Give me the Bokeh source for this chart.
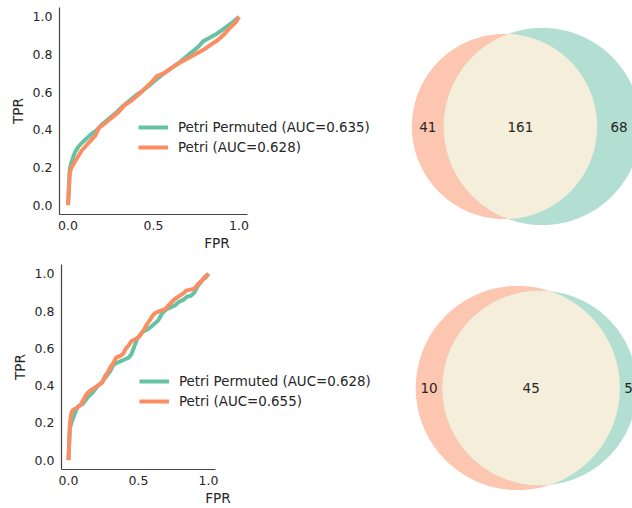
import numpy as np
from bokeh.plotting import figure
from bokeh.layouts import column, row
from bokeh.models import (Legend, LegendItem, FixedTicker, PrintfTickFormatter,
                          Range1d, ColumnDataSource)
from bokeh.core.properties import value
from bokeh.embed import file_html
from bokeh.resources import INLINE

# ---------------- data ----------------
# Top ROC panel
top_perm_fpr = [0, 0.005, 0.01, 0.02, 0.04, 0.06, 0.08, 0.11, 0.14, 0.17, 0.20, 0.24, 0.28, 0.32, 0.36,
                0.40, 0.44, 0.48, 0.52, 0.56, 0.60, 0.64, 0.68, 0.72, 0.76, 0.79, 0.82, 0.86, 0.90,
                0.93, 0.96, 0.98, 1.0]
top_perm_tpr = [0, 0.10, 0.19, 0.23, 0.28, 0.31, 0.33, 0.355, 0.38, 0.40, 0.43, 0.46, 0.49, 0.525, 0.555,
                0.585, 0.61, 0.64, 0.67, 0.70, 0.725, 0.75, 0.78, 0.81, 0.84, 0.87, 0.885, 0.905, 0.93,
                0.95, 0.97, 0.985, 1.0]
top_petri_fpr = [0, 0.005, 0.01, 0.02, 0.04, 0.06, 0.08, 0.10, 0.13, 0.16, 0.18, 0.21, 0.25, 0.29, 0.33,
                 0.37, 0.41, 0.45, 0.49, 0.52, 0.56, 0.60, 0.64, 0.68, 0.72, 0.76, 0.80, 0.84, 0.88,
                 0.91, 0.94, 0.96, 0.98, 0.99, 1.0]
top_petri_tpr = [0, 0.08, 0.17, 0.20, 0.23, 0.26, 0.29, 0.31, 0.34, 0.37, 0.41, 0.43, 0.46, 0.49, 0.53,
                 0.555, 0.585, 0.62, 0.655, 0.685, 0.70, 0.725, 0.75, 0.77, 0.79, 0.81, 0.83, 0.855, 0.88,
                 0.905, 0.935, 0.955, 0.97, 0.985, 1.0]
top_labels = ["Petri Permuted (AUC=0.635)", "Petri (AUC=0.628)"]

# Bottom ROC panel
bot_perm_fpr = [0, 0.005, 0.01, 0.02, 0.035, 0.05, 0.07, 0.10, 0.12, 0.14, 0.17, 0.19, 0.21, 0.24, 0.26,
                0.28, 0.30, 0.32, 0.34, 0.37, 0.40, 0.43, 0.45, 0.47, 0.49, 0.51, 0.53, 0.56, 0.58,
                0.61, 0.64, 0.67, 0.70, 0.73, 0.76, 0.79, 0.82, 0.85, 0.87, 0.90, 0.92, 0.94, 0.96,
                0.98, 1.0]
bot_perm_tpr = [0, 0.09, 0.17, 0.20, 0.23, 0.26, 0.29, 0.30, 0.32, 0.34, 0.36, 0.38, 0.40, 0.42, 0.44,
                0.46, 0.48, 0.51, 0.52, 0.53, 0.54, 0.55, 0.57, 0.61, 0.65, 0.67, 0.69, 0.70, 0.71,
                0.73, 0.75, 0.79, 0.81, 0.82, 0.83, 0.85, 0.86, 0.88, 0.88, 0.90, 0.93, 0.95, 0.97,
                0.98, 1.0]
bot_petri_fpr = [0, 0.005, 0.01, 0.02, 0.033, 0.06, 0.09, 0.11, 0.13, 0.15, 0.18, 0.21, 0.24, 0.26, 0.28,
                 0.30, 0.32, 0.34, 0.37, 0.39, 0.41, 0.43, 0.45, 0.47, 0.50, 0.52, 0.54, 0.56, 0.58,
                 0.60, 0.62, 0.65, 0.69, 0.72, 0.74, 0.76, 0.79, 0.82, 0.84, 0.87, 0.90, 0.92, 0.94,
                 0.95, 0.97, 1.0]
bot_petri_tpr = [0, 0.10, 0.20, 0.25, 0.272, 0.28, 0.30, 0.33, 0.355, 0.37, 0.385, 0.40, 0.415, 0.45, 0.47,
                 0.50, 0.52, 0.55, 0.56, 0.57, 0.60, 0.615, 0.64, 0.645, 0.66, 0.68, 0.70, 0.73, 0.75,
                 0.775, 0.79, 0.80, 0.81, 0.835, 0.85, 0.865, 0.88, 0.895, 0.91, 0.915, 0.92, 0.94, 0.955,
                 0.96, 0.98, 1.0]
bot_labels = ["Petri Permuted (AUC=0.628)", "Petri (AUC=0.655)"]

# Venn counts: (only left, both, only right)
top_venn = [41, 161, 68]
bot_venn = [10, 45, 5]

x_ticks = [0.0, 0.5, 1.0]
y_ticks = [0.0, 0.2, 0.4, 0.6, 0.8, 1.0]

# ---------------- style ----------------
GREEN = "#66c2a5"
ORANGE = "#fc8d62"
TEXT = "#262626"
FONT = "DejaVu Sans"
SALMON = "#fdc6b0"
TEAL = "#b2dfd1"
CREAM = "#f5eedb"

ROC_W = 400
VENN_W = 232


def roc_fig(fpr1, tpr1, fpr2, tpr2, labels, px_per_unit, frame_h, left, top, bottom, legend_xy):
    right = 26
    fw = ROC_W - left - right
    xend = -0.05 + fw / px_per_unit
    p = figure(frame_width=fw, frame_height=frame_h, title=None,
               x_range=Range1d(-0.05, xend), y_range=Range1d(-0.05, 1.05),
               output_backend="svg", toolbar_location=None,
               min_border_left=left, min_border_right=right,
               min_border_top=top, min_border_bottom=bottom)
    p.outline_line_color = None
    p.grid.visible = False
    p.background_fill_color = "white"
    r1 = p.line(fpr1, tpr1, line_color=GREEN, line_width=4)
    r2 = p.line(fpr2, tpr2, line_color=ORANGE, line_width=4)
    p.xaxis.bounds = (-0.05, 1.05)
    p.xaxis.ticker = FixedTicker(ticks=x_ticks)
    p.yaxis.ticker = FixedTicker(ticks=y_ticks)
    p.xaxis.formatter = PrintfTickFormatter(format="%.1f")
    p.yaxis.formatter = PrintfTickFormatter(format="%.1f")
    p.xaxis.axis_label = "FPR"
    p.yaxis.axis_label = "TPR"
    for ax in (p.xaxis, p.yaxis):
        ax.axis_line_color = "#444444"
        ax.axis_line_width = 1.2
        ax.major_tick_line_color = None
        ax.minor_tick_line_color = None
        ax.major_tick_out = 0
        ax.major_tick_in = 0
        ax.minor_tick_out = 0
        ax.major_label_text_font = FONT
        ax.major_label_text_font_size = "12.5px"
        ax.major_label_text_color = TEXT
        ax.axis_label_text_font = FONT
        ax.axis_label_text_font_size = "13.7px"
        ax.axis_label_text_font_style = "normal"
        ax.axis_label_text_color = TEXT
    p.xaxis.major_label_standoff = 6
    p.yaxis.major_label_standoff = 7
    p.xaxis.axis_label_standoff = 2
    p.yaxis.axis_label_standoff = 4
    leg = Legend(items=[LegendItem(label=labels[0], renderers=[r1]),
                        LegendItem(label=labels[1], renderers=[r2])],
                 location=legend_xy)
    leg.label_text_font = FONT
    leg.label_text_font_size = "13.4px"
    leg.label_text_color = TEXT
    leg.glyph_width = 30
    leg.glyph_height = 20
    leg.label_height = 20
    leg.label_standoff = 10
    leg.spacing = 0
    leg.padding = 0
    leg.margin = 0
    leg.border_line_color = None
    leg.background_fill_alpha = 0
    p.add_layout(leg, "center")
    return p


def lens_area(r1, r2, d):
    if d >= r1 + r2:
        return 0.0
    if d <= abs(r1 - r2):
        return np.pi * min(r1, r2) ** 2
    a1 = r1 ** 2 * np.arccos((d ** 2 + r1 ** 2 - r2 ** 2) / (2 * d * r1))
    a2 = r2 ** 2 * np.arccos((d ** 2 + r2 ** 2 - r1 ** 2) / (2 * d * r2))
    a3 = 0.5 * np.sqrt((-d + r1 + r2) * (d + r1 - r2) * (d - r1 + r2) * (d + r1 + r2))
    return a1 + a2 - a3


def venn_fig(counts, scale, width, height, cx_px, cy_px):
    a_only, both, b_only = counts
    r1 = np.sqrt((a_only + both) / np.pi)
    r2 = np.sqrt((b_only + both) / np.pi)
    lo, hi = abs(r1 - r2) + 1e-9, r1 + r2
    for _ in range(200):
        mid = 0.5 * (lo + hi)
        if lens_area(r1, r2, mid) > both:
            lo = mid
        else:
            hi = mid
    d = 0.5 * (lo + hi)
    x0 = -cx_px / scale
    y1 = cy_px / scale
    p = figure(frame_width=width, frame_height=height, title=None,
               x_range=Range1d(x0, x0 + width / scale),
               y_range=Range1d(y1 - height / scale, y1),
               x_axis_type=None, y_axis_type=None,
               min_border_left=0, min_border_right=0, min_border_top=0, min_border_bottom=0,
               output_backend="svg", toolbar_location=None)
    p.outline_line_color = None
    p.background_fill_color = "white"
    # circles drawn as polygons so that both axes use the same data units
    t = np.linspace(0, 2 * np.pi, 240)
    p.patches(xs=[list(r1 * np.cos(t)), list(d + r2 * np.cos(t))],
              ys=[list(r1 * np.sin(t)), list(r2 * np.sin(t))],
              fill_color=[SALMON, TEAL], line_color=None)
    # lens (intersection region)
    xi = (d ** 2 + r1 ** 2 - r2 ** 2) / (2 * d)
    h = np.sqrt(max(r1 ** 2 - xi ** 2, 0))
    ta = np.arctan2(h, xi)
    tb = np.arctan2(h, d - xi)
    ang_a = np.linspace(-ta, ta, 120)
    ang_b = np.linspace(np.pi - tb, np.pi + tb, 120)
    lx = list(r1 * np.cos(ang_a)) + list(d + r2 * np.cos(ang_b))
    ly = list(r1 * np.sin(ang_a)) + list(r2 * np.sin(ang_b))
    p.patch(lx, ly, fill_color=CREAM, line_color=None)
    a_left, a_right = -r1, r1
    b_left, b_right = d - r2, d + r2
    src = ColumnDataSource(dict(
        x=[(a_left + b_left) / 2, (b_left + a_right) / 2, (a_right + b_right) / 2],
        y=[0, 0, 0],
        t=[str(c) for c in counts]))
    p.text(x="x", y="y", text="t", source=src, text_align="center",
           text_baseline="middle", text_font=value(FONT),
           text_font_size="13.5px", text_color=TEXT)
    return p


top_roc = roc_fig(top_perm_fpr, top_perm_tpr, top_petri_fpr, top_petri_tpr, top_labels,
                  171, 207, 59, 7, 41, (79, 57))
bot_roc = roc_fig(bot_perm_fpr, bot_perm_tpr, bot_petri_fpr, bot_petri_tpr, bot_labels,
                  140, 205, 61, 9, 39, (78, 58))
top_v = venn_fig(top_venn, 11.55, VENN_W, 255, 104, 119)
bot_v = venn_fig(bot_venn, 24.4, VENN_W, 253, 117.3, 123.5)

layout = column(row(top_roc, top_v), row(bot_roc, bot_v))

open("out.html", "w").write(file_html(layout, INLINE))
